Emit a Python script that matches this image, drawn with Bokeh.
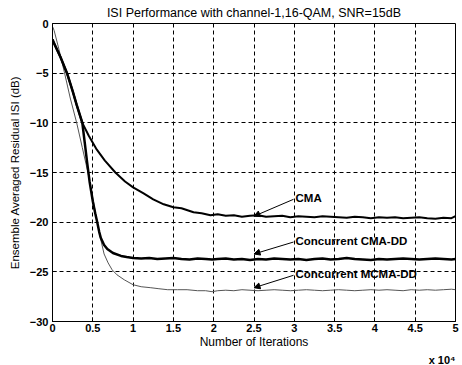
from bokeh.plotting import figure
from bokeh.models import Label, Arrow, NormalHead, FixedTicker, Range1d, Title
from bokeh.embed import file_html
from bokeh.resources import INLINE

# ---------------- data (x in units of 10^4 iterations, y in dB) ----------------
flat_x = [2.05, 2.15, 2.25, 2.35, 2.45, 2.55, 2.65, 2.75, 2.85, 2.95,
          3.05, 3.15, 3.25, 3.35, 3.45, 3.55, 3.65, 3.75, 3.85, 3.95,
          4.05, 4.15, 4.25, 4.35, 4.45, 4.55, 4.65, 4.75, 4.85, 4.95, 5.0]

cma_x = [0.0, 0.02, 0.1, 0.18, 0.25, 0.3, 0.37, 0.45, 0.55, 0.65, 0.78, 0.9,
         1.0, 1.13, 1.25, 1.38, 1.5, 1.6, 1.75, 1.85, 1.96] + flat_x
cma_y = [-1.6, -2.0, -3.4, -5.0, -6.8, -8.2, -10.0, -11.3, -12.7, -13.8, -15.0, -15.9,
         -16.5, -17.1, -17.7, -18.2, -18.5, -18.6, -19.0, -19.1, -19.3,
         -19.2, -19.35, -19.3, -19.45, -19.35, -19.3, -19.45, -19.4, -19.35, -19.5,
         -19.4, -19.45, -19.5, -19.4, -19.45, -19.5, -19.55, -19.45, -19.5, -19.6,
         -19.5, -19.55, -19.5, -19.6, -19.55, -19.5, -19.6, -19.65, -19.55, -19.6, -19.4]

cmadd_x = [0.0, 0.02, 0.1, 0.18, 0.25, 0.3, 0.37, 0.4, 0.43, 0.46, 0.5, 0.53,
           0.555, 0.58, 0.6, 0.64, 0.68, 0.75, 0.85, 0.92, 1.0, 1.1, 1.2, 1.3,
           1.4, 1.5, 1.6, 1.7, 1.8, 1.9, 1.98] + flat_x
cmadd_y = [-1.6, -2.0, -3.4, -5.0, -6.8, -8.2, -10.0, -12.0, -14.0, -15.9, -17.9, -19.1,
           -20.0, -21.0, -21.6, -22.3, -22.7, -23.1, -23.4, -23.5, -23.6, -23.65, -23.6, -23.7,
           -23.65, -23.6, -23.7, -23.75, -23.65, -23.7, -23.75,
           -23.7, -23.65, -23.75, -23.7, -23.8, -23.7, -23.75, -23.65, -23.7, -23.75,
           -23.7, -23.8, -23.7, -23.65, -23.75, -23.7, -23.6, -23.7, -23.75, -23.8,
           -23.7, -23.75, -23.7, -23.65, -23.7, -23.75, -23.7, -23.65, -23.7, -23.75, -23.7]

mcmadd_x = [0.0, 0.02, 0.08, 0.15, 0.22, 0.3, 0.37, 0.44, 0.5, 0.55, 0.6, 0.64,
            0.69, 0.74, 0.8, 0.89, 1.0, 1.1, 1.22, 1.32, 1.43, 1.55, 1.67, 1.8,
            1.9, 1.98] + flat_x
mcmadd_y = [-0.3, -0.7, -2.6, -5.0, -7.5, -10.0, -12.5, -15.0, -17.6, -19.8, -21.8, -23.2,
            -24.1, -24.8, -25.3, -25.8, -26.3, -26.5, -26.6, -26.7, -26.8, -26.8, -26.8, -26.9,
            -26.9, -27.0,
            -26.9, -26.85, -26.9, -26.8, -26.85, -26.9, -26.85, -26.8, -26.85, -26.9,
            -26.85, -26.8, -26.85, -26.9, -26.85, -26.8, -26.85, -26.9, -26.85, -26.8,
            -26.85, -26.8, -26.85, -26.9, -26.8, -26.85, -26.8, -26.85, -26.8, -26.75, -26.8]

x_ticks = [0, 0.5, 1, 1.5, 2, 2.5, 3, 3.5, 4, 4.5, 5]
y_ticks = [-30, -25, -20, -15, -10, -5, 0]

# annotations: label text, label position, arrow tail, arrow head
ann_text = ["CMA", "Concurrent CMA-DD", "Concurrent MCMA-DD"]
ann_pos = [(3.015, -17.6), (3.015, -21.9), (3.015, -25.25)]
ann_tail = [(2.99, -17.7), (2.99, -22.0), (2.99, -25.35)]
ann_head = [(2.5, -19.4), (2.5, -23.2), (2.5, -26.6)]

FONT = "Liberation Sans"

p = figure(width=462, height=365, output_backend="svg", toolbar_location=None,
           x_range=Range1d(0, 5), y_range=Range1d(-30, 0),
           min_border_left=52, min_border_right=7, min_border_top=23, min_border_bottom=40,
           title="ISI Performance with channel-1,16-QAM, SNR=15dB")
p.title.align = "center"
p.title.text_font = FONT
p.title.text_font_size = "12.5px"
p.title.text_font_style = "normal"
p.title.text_color = "black"
p.title.standoff = 7

p.outline_line_color = "black"
p.outline_line_width = 1
p.outline_line_alpha = 1

for ax in (p.xaxis[0], p.yaxis[0]):
    ax.major_tick_in = 4
    ax.major_tick_out = 0
    ax.minor_tick_in = 0
    ax.minor_tick_out = 0
    ax.axis_line_color = "black"
    ax.major_tick_line_color = "black"
    ax.major_label_text_font = FONT
    ax.major_label_text_font_size = "11px"
    ax.major_label_text_font_style = "bold"
    ax.major_label_text_color = "black"
    ax.axis_label_text_font = FONT
    ax.axis_label_text_font_style = "normal"
    ax.axis_label_text_color = "black"

p.xaxis.ticker = FixedTicker(ticks=x_ticks)
p.yaxis.ticker = FixedTicker(ticks=y_ticks)
p.xaxis.major_label_overrides = {t: ("%g" % t) for t in x_ticks}
p.xaxis.axis_label = "Number of Iterations"
p.xaxis.axis_label_text_font_size = "12px"
p.xaxis.major_label_standoff = 2
p.yaxis.major_label_standoff = 4
p.xaxis.axis_label_standoff = 0

for g in (p.xgrid[0], p.ygrid[0]):
    g.grid_line_color = "black"
    g.grid_line_dash = "4 3"
    g.grid_line_width = 1
    g.grid_line_alpha = 1

p.line(mcmadd_x, mcmadd_y, line_color="#555555", line_width=1)
p.line(cma_x, cma_y, line_color="black", line_width=2)
p.line(cmadd_x, cmadd_y, line_color="black", line_width=2.5)

for txt, (lx, ly), (tx, ty), (hx, hy) in zip(ann_text, ann_pos, ann_tail, ann_head):
    p.add_layout(Label(x=lx, y=ly, text=txt, text_font=FONT, text_font_size="11.5px",
                       text_font_style="bold", text_baseline="middle", text_align="left",
                       text_color="black"))
    p.add_layout(Arrow(x_start=tx, y_start=ty, x_end=hx, y_end=hy, line_color="black",
                       line_width=1,
                       end=NormalHead(size=6, fill_color="black", line_color="black")))

# y-axis title as a left-side title (allows shifting it along the axis)
p.add_layout(Title(text="Ensemble Averaged Residual ISI (dB)", align="center", offset=13,
                   text_font=FONT, text_font_size="11.5px", text_font_style="normal",
                   text_color="black", standoff=12), "left")

# exponent note under the x axis, right-aligned
p.add_layout(Title(text="x 10\u2074", align="right", text_font=FONT, text_font_size="11px",
                   text_font_style="bold", text_color="black", standoff=0), "below")

open("out.html", "w").write(file_html(p, INLINE))
